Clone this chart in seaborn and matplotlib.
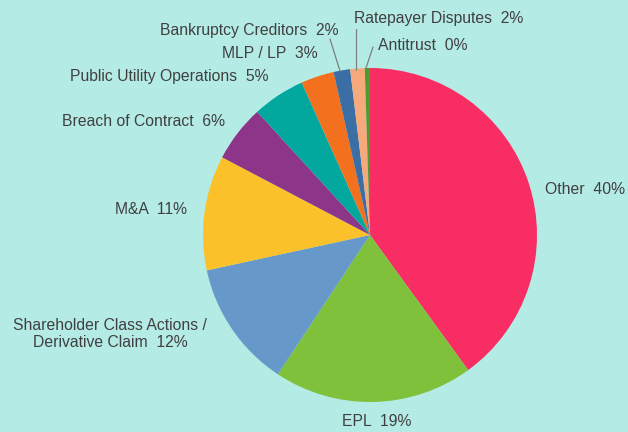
"""Pie chart of claim categories with leader-line labels."""

import matplotlib
matplotlib.use("Agg")
import matplotlib.pyplot as plt
import seaborn as sns

# data, clockwise from 12 o'clock
categories = [
    "Other", "EPL", "Shareholder Class Actions /\nDerivative Claim", "M&A",
    "Breach of Contract", "Public Utility Operations", "MLP / LP",
    "Bankruptcy Creditors", "Ratepayer Disputes", "Antitrust",
]
shares = [40.0, 19.3, 12.3, 11.1, 5.5, 5.1, 3.2, 1.6, 1.4, 0.5]
pct_labels = ["40%", "19%", "12%", "11%", "6%", "5%", "3%", "2%", "2%", "0%"]
colors = [
    "#f72d63", "#7fc13b", "#6699c9", "#fbc12b", "#8c3589",
    "#02a89d", "#f3711e", "#3a6ea5", "#f6aa7c", "#4f9a2c",
]

BG = "#b4ebe5"
TXT = "#404040"

# layout, in pixels of the 628x432 canvas
W, H = 628, 432
CX, CY, R = 370, 235, 167


def px(x, y):
    return (x - CX) / R, (CY - y) / R


label_pos = [
    (545, 190, "left"), (377, 422, "center"), (110, 334, "center"),
    (187, 209, "right"), (225, 122, "right"), (269, 77, "right"),
    (318, 54, "right"), (338, 30, "right"), (354, 19, "left"),
    (378, 46, "left"),
]
leaders = {
    7: ((330, 39), (340, 71)),
    8: ((356, 29), (356, 70)),
    9: ((373, 47), (366, 68)),
}

sns.set_style("white", {"axes.facecolor": BG, "figure.facecolor": BG})
plt.rcParams["font.family"] = ["Liberation Sans", "DejaVu Sans"]

fig = plt.figure(figsize=(W / 100, H / 100), dpi=100)
ax = fig.add_axes([0, 0, 1, 1])
ax.pie(
    shares, colors=colors, startangle=90, counterclock=False,
    radius=1, wedgeprops={"linewidth": 0},
)
ax.set_xlim(-CX / R, (W - CX) / R)
ax.set_ylim(-(H - CY) / R, CY / R)
ax.set_aspect("auto")
ax.axis("off")

for i, (name, pct) in enumerate(zip(categories, pct_labels)):
    x, y, ha = label_pos[i]
    tx, ty = px(x, y)
    ax.text(tx, ty, f"{name}  {pct}", ha=ha, va="center", fontsize=11.3,
            color=TXT, multialignment="center")

for i, (p0, p1) in leaders.items():
    (x0, y0), (x1, y1) = px(*p0), px(*p1)
    ax.plot([x0, x1], [y0, y1], color="#7f7f7f", lw=0.9)

fig.savefig("out.png", dpi=100, facecolor=BG)
